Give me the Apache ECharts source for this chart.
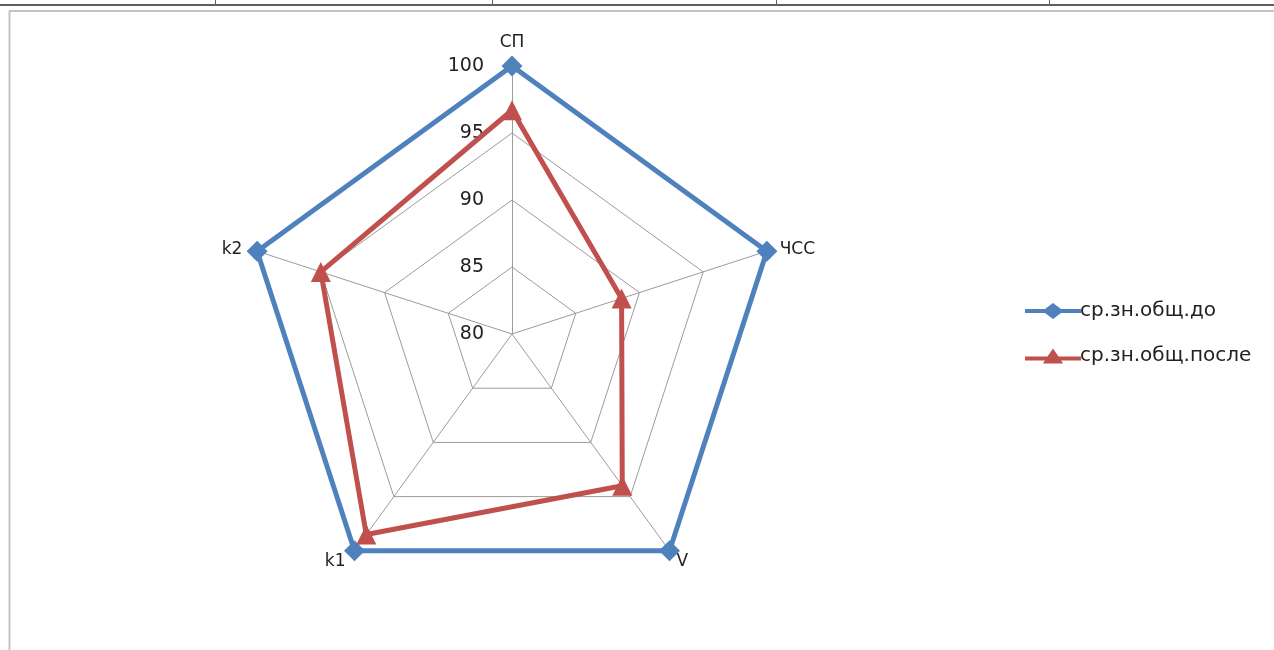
<!DOCTYPE html>
<html>
<head>
<meta charset="utf-8">
<script src="https://cdn.jsdelivr.net/npm/echarts@6/dist/echarts.min.js"></script>
<style>
html,body{margin:0;padding:0;background:#fff;}
#c{width:1274px;height:650px;}
</style>
</head>
<body>
<div id="c"></div>
<script>
// Data (clockwise from top, as in the picture)
var categories = ['СП', 'ЧСС', 'V', 'k1', 'k2'];
var seriesNames = ['ср.зн.общ.до', 'ср.зн.общ.после'];
var before = [100, 100, 100, 100, 100];
var after = [96.7, 88.6, 94.0, 98.5, 95.0];
var levelTicks = [80, 85, 90, 95, 100];

var FONT = 'DejaVu Sans';
var BLUE = '#4F81BD', RED = '#C0504D';
// ECharts radar runs counter-clockwise; reorder so the picture reads clockwise
var order = [0, 4, 3, 2, 1];
function reorder(arr) { return order.map(function (i) { return arr[i]; }); }

var namePad = {
  'СП': [0, 0, 10, 0],
  'ЧСС': [0, 0, 0, 8],
  'V': [14, 0, 0, 4],
  'k1': [14, 6, 0, 0],
  'k2': [0, 10, 0, 0]
};
var rich = {};
categories.forEach(function (c, i) {
  rich['n' + i] = { padding: namePad[c], fontSize: 17, fontFamily: FONT, color: '#222' };
});

var diamondIcon = 'path://M0,6 L20,6 L28,0 L36,6 L56,6 L56,10 L36,10 L28,16 L20,10 L0,10 Z';
var triangleIcon = 'path://M0,8 L22.5,8 L28,0 L33.5,8 L56,8 L56,12 L36.2,12 L38,15 L18,15 L19.8,12 L0,12 Z';

var chart = echarts.init(document.getElementById('c'));
chart.setOption({
  animation: false,
  backgroundColor: '#fff',
  graphic: [
    { type: 'rect', shape: { x: 0, y: 4, width: 1274, height: 2 }, style: { fill: '#5f5f5f' } },
    { type: 'line', shape: { x1: 215.5, y1: 0, x2: 215.5, y2: 5 }, style: { stroke: '#5f5f5f', lineWidth: 1 } },
    { type: 'line', shape: { x1: 492.5, y1: 0, x2: 492.5, y2: 5 }, style: { stroke: '#5f5f5f', lineWidth: 1 } },
    { type: 'line', shape: { x1: 776.5, y1: 0, x2: 776.5, y2: 5 }, style: { stroke: '#5f5f5f', lineWidth: 1 } },
    { type: 'line', shape: { x1: 1049.5, y1: 0, x2: 1049.5, y2: 5 }, style: { stroke: '#5f5f5f', lineWidth: 1 } },
    { type: 'line', shape: { x1: 9, y1: 11, x2: 1274, y2: 11 }, style: { stroke: '#c4c4c4', lineWidth: 2 } },
    { type: 'line', shape: { x1: 9.5, y1: 11, x2: 9.5, y2: 650 }, style: { stroke: '#c4c4c4', lineWidth: 2 } }
  ],
  legend: {
    orient: 'vertical',
    left: 1020,
    top: 296,
    itemWidth: 56,
    itemHeight: 16,
    itemGap: 25,
    textStyle: { fontFamily: FONT, fontSize: 20, lineHeight: 20, color: '#222', padding: [0, 0, 0, -6] },
    data: [
      { name: seriesNames[0], icon: diamondIcon, itemStyle: { color: BLUE } },
      { name: seriesNames[1], icon: triangleIcon, itemStyle: { color: RED } }
    ]
  },
  grid: { left: 512, top: 66, height: 268, width: 1, containLabel: false },
  xAxis: { type: 'value', show: false },
  yAxis: {
    type: 'value', min: 80, max: 100, interval: 5,
    axisLine: { show: false }, axisTick: { show: false }, splitLine: { show: false },
    axisLabel: { margin: 28, fontFamily: FONT, fontSize: 19, color: '#222', padding: [4, 0, 0, 0],
      formatter: function (v) { return levelTicks.indexOf(v) >= 0 ? String(v) : ''; } }
  },
  radar: {
    center: [512, 334],
    radius: 268,
    startAngle: 90,
    shape: 'polygon',
    splitNumber: 4,
    indicator: reorder(categories).map(function (c) { return { name: c, min: 80, max: 100 }; }),
    nameGap: 5,
    axisName: {
      color: '#222', fontFamily: FONT, fontSize: 17,
      formatter: function (name) { return '{n' + categories.indexOf(name) + '|' + name + '}'; },
      rich: rich
    },
    splitArea: { show: false },
    splitLine: { lineStyle: { color: '#9c9c9c', width: 1 } },
    axisLine: { lineStyle: { color: '#9c9c9c', width: 1 } },
    axisLabel: { show: false }
  },
  series: [{
    type: 'radar',
    data: [
      {
        name: seriesNames[0], value: reorder(before),
        symbol: 'diamond', symbolSize: 21,
        lineStyle: { color: BLUE, width: 5 },
        itemStyle: { color: BLUE }
      },
      {
        name: seriesNames[1], value: reorder(after),
        symbol: 'triangle', symbolSize: 20,
        lineStyle: { color: RED, width: 5 },
        itemStyle: { color: RED }
      }
    ]
  }]
});
</script>
</body>
</html>
